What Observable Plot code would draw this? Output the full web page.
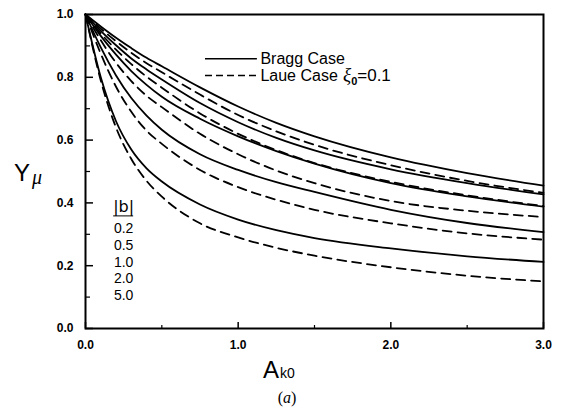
<!DOCTYPE html>
<html>
<head>
<meta charset="utf-8">
<script src="https://cdn.jsdelivr.net/npm/d3@7"></script>
<script src="https://cdn.jsdelivr.net/npm/@observablehq/plot@0.6"></script>
<style>
  html, body { margin: 0; padding: 0; background: #fff; }
  #chart { width: 562px; height: 415px; }
</style>
</head>
<body>
<div id="chart"></div>
<script>
// ---- data ----
const A = [0, 0.1, 0.2, 0.3, 0.4, 0.5, 0.75, 1.0, 1.25, 1.5, 2.0, 2.5, 3.0];
const bValues = ["0.2", "0.5", "1.0", "2.0", "5.0"];
const braggY = {
  "0.2": [1, 0.962, 0.926, 0.893, 0.862, 0.835, 0.768, 0.707, 0.655, 0.612, 0.545, 0.495, 0.455],
  "0.5": [1, 0.948, 0.902, 0.860, 0.825, 0.793, 0.718, 0.657, 0.607, 0.567, 0.507, 0.463, 0.427],
  "1.0": [1, 0.932, 0.872, 0.820, 0.776, 0.738, 0.668, 0.612, 0.565, 0.525, 0.463, 0.421, 0.388],
  "2.0": [1, 0.895, 0.806, 0.734, 0.678, 0.633, 0.555, 0.505, 0.466, 0.435, 0.378, 0.336, 0.307],
  "5.0": [1, 0.800, 0.660, 0.570, 0.510, 0.468, 0.395, 0.347, 0.313, 0.288, 0.255, 0.230, 0.212]
};
const laueY = {
  "0.2": [1, 0.955, 0.915, 0.878, 0.845, 0.816, 0.745, 0.680, 0.628, 0.585, 0.520, 0.470, 0.432],
  "0.5": [1, 0.940, 0.888, 0.842, 0.802, 0.767, 0.685, 0.620, 0.568, 0.527, 0.467, 0.424, 0.390],
  "1.0": [1, 0.918, 0.846, 0.788, 0.741, 0.705, 0.620, 0.555, 0.503, 0.463, 0.406, 0.375, 0.355],
  "2.0": [1, 0.875, 0.770, 0.690, 0.630, 0.588, 0.505, 0.450, 0.410, 0.378, 0.335, 0.303, 0.283],
  "5.0": [1, 0.790, 0.640, 0.540, 0.470, 0.420, 0.335, 0.290, 0.257, 0.232, 0.195, 0.168, 0.150]
};
const xTicks = [0, 1, 2, 3];
const xMinorTicks = [0.5, 1.5, 2.5];
const yTicks = [0, 0.2, 0.4, 0.6, 0.8, 1.0];
const yMinorTicks = [0.1, 0.3, 0.5, 0.7, 0.9];
const legendBragg = [{label: "Bragg Case", x1: 0.786, x2: 1.126, y: 0.859}];
const legendLaue = [{label: "Laue Case", x1: 0.786, x2: 1.126, y: 0.806}];
const bLegend = {title: "|b|", x: 0.25, titleY: 0.386, ruleY: 0.357, ys: [0.318, 0.264, 0.211, 0.159, 0.105]};

// ---- table ----
const rows = [];
for (const b of bValues) {
  A.forEach((a, i) => {
    rows.push({A: a, Y: braggY[b][i], b, kind: "Bragg"});
    rows.push({A: a, Y: laueY[b][i], b, kind: "Laue"});
  });
}

const sans = "'Liberation Sans', Arial, sans-serif";
const fmt = d3.format(".1f");

const plot = Plot.plot({
  width: 562,
  height: 415,
  marginLeft: 85,
  marginRight: 19,
  marginTop: 14,
  marginBottom: 87,
  style: {fontFamily: sans, background: "white", color: "black"},
  x: {domain: [0, 3]},
  y: {domain: [0, 1]},
  marks: [
    Plot.line(rows.filter(d => d.kind === "Bragg"), {x: "A", y: "Y", z: "b", stroke: "black", strokeWidth: 1.8, curve: "monotone-x"}),
    Plot.line(rows.filter(d => d.kind === "Laue"), {x: "A", y: "Y", z: "b", stroke: "black", strokeWidth: 1.8, strokeDasharray: "9,6", curve: "monotone-x"}),
    Plot.axisY(yTicks, {tickSize: -8, text: null, strokeWidth: 1.5}),
    Plot.axisY(yMinorTicks, {tickSize: -5, text: null, strokeWidth: 1.2}),
    Plot.axisX(xTicks, {tickSize: -6, text: null, strokeWidth: 1.5}),
    Plot.axisX(xMinorTicks, {tickSize: -3, text: null, strokeWidth: 1.2}),
    Plot.axisY(yTicks, {tickSize: 0, tickPadding: 12, tickFormat: fmt, label: null, fontSize: 12, fontWeight: 900}),
    Plot.axisX(xTicks, {tickSize: 0, tickPadding: 12, tickFormat: fmt, label: null, fontSize: 12, fontWeight: 900}),
    Plot.frame({stroke: "black", strokeWidth: 2}),
    Plot.ruleY(legendBragg, {x1: "x1", x2: "x2", y: "y", stroke: "black", strokeWidth: 1.5}),
    Plot.ruleY(legendLaue, {x1: "x1", x2: "x2", y: "y", stroke: "black", strokeWidth: 1.5, strokeDasharray: "7,4"}),
    Plot.text(legendBragg.concat(legendLaue), {x: "x2", y: "y", text: "label", textAnchor: "start", dx: 3, fontSize: 16, fontFamily: sans}),
    Plot.text([bLegend], {x: "x", y: "titleY", text: "title", fontSize: 16, fontFamily: "'DejaVu Sans', sans-serif"}),
    Plot.text(bValues, {x: () => bLegend.x, y: (d, i) => bLegend.ys[i], text: d => d, fontSize: 14, fontFamily: sans})
  ]
});

const svg = d3.select(plot);
const xs = plot.scale("x"), ys = plot.scale("y");
// xi_0 = 0.1
const tx = svg.append("text")
  .attr("x", 343)
  .attr("y", ys.apply(legendLaue[0].y) + 6)
  .attr("text-anchor", "start")
  .attr("font-family", sans)
  .attr("font-size", 16);
tx.append("tspan").attr("font-size", 19).attr("font-family", "'Liberation Serif', serif").attr("font-style", "italic").text("ξ");
tx.append("tspan").attr("font-size", 11).attr("font-weight", "bold").attr("dy", 4).text("0");
tx.append("tspan").attr("dy", -4).attr("font-size", 17).text("=0.1");
// underline under |b|
svg.append("line")
  .attr("x1", xs.apply(bLegend.x) - 10).attr("x2", xs.apply(bLegend.x) + 10)
  .attr("y1", ys.apply(bLegend.ruleY)).attr("y2", ys.apply(bLegend.ruleY))
  .attr("stroke", "black").attr("stroke-width", 1);
// y label
const yl = svg.append("text").attr("x", 14).attr("y", 181).attr("text-anchor", "start")
  .attr("font-family", sans).attr("font-size", 24);
yl.append("tspan").text("Y");
yl.append("tspan").attr("font-family", "'Liberation Serif', serif").attr("font-style", "italic").attr("font-size", 20).attr("dx", 2).attr("dy", 3).text("μ");
// x label
const xl = svg.append("text").attr("x", 263).attr("y", 378).attr("text-anchor", "start")
  .attr("font-family", sans).attr("font-size", 24);
xl.append("tspan").text("A");
xl.append("tspan").attr("font-size", 14).attr("dx", 1).text("k0");
// caption
svg.append("text").attr("x", 287).attr("y", 403).attr("text-anchor", "middle")
  .attr("font-family", "'Liberation Serif', 'Times New Roman', serif").attr("font-size", 16)
  .html("(<tspan font-style='italic'>a</tspan>)");

document.getElementById("chart").appendChild(plot);
</script>
</body>
</html>
